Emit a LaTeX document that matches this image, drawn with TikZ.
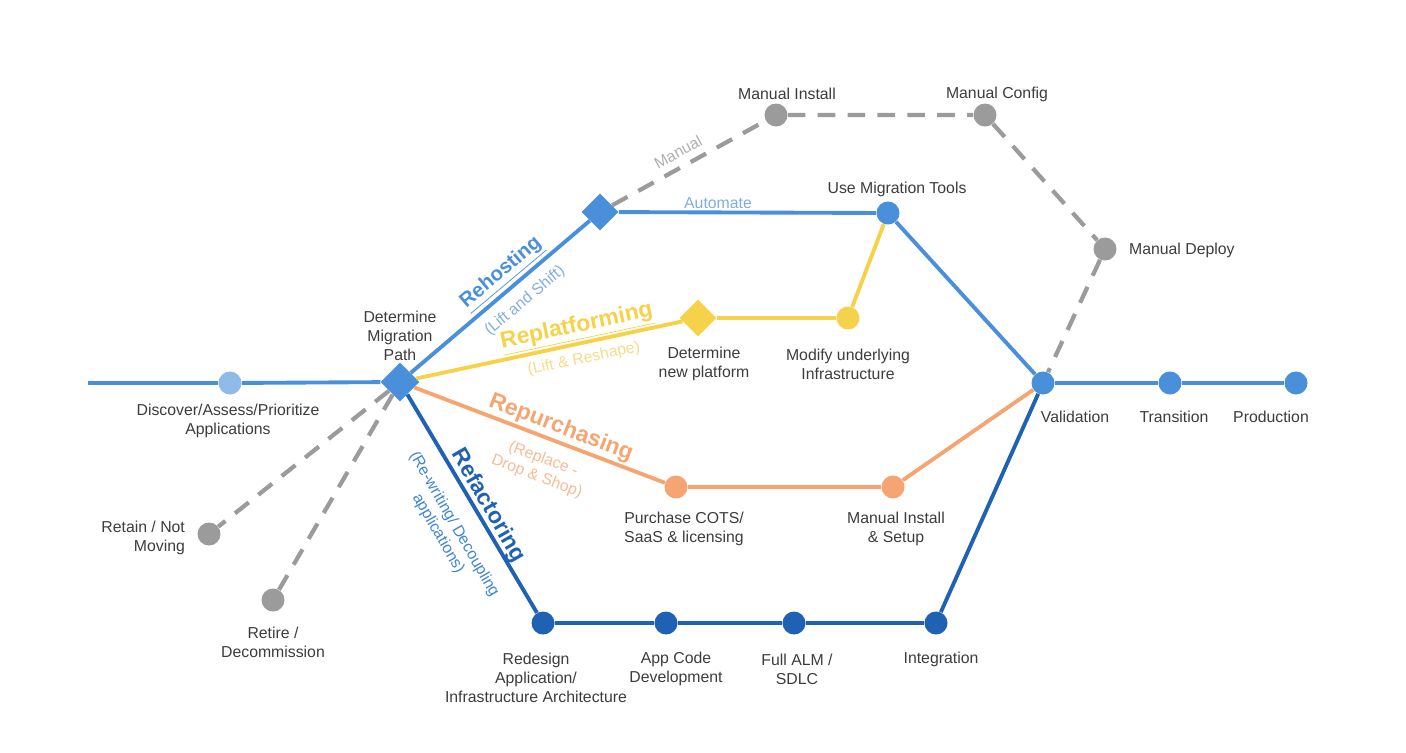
\documentclass[tikz,border=0pt]{standalone}
\usepackage{fontspec}
\setmainfont{Liberation Sans}
\usetikzlibrary{shapes.geometric}

\definecolor{hostblue}{HTML}{4A8FD9}
\definecolor{discblue}{HTML}{8FBBE9}
\definecolor{refblue}{HTML}{1F62B3}
\definecolor{platyellow}{HTML}{F6D24A}
\definecolor{buyorange}{HTML}{F5A572}
\definecolor{mangray}{HTML}{9B9B9B}
\definecolor{labelgray}{HTML}{3C3C3C}
\definecolor{hostnote}{HTML}{7FAEE3}
\definecolor{platnote}{HTML}{F6DC8A}
\definecolor{buynote}{HTML}{F6BC98}
\definecolor{refnote}{HTML}{3F84D4}

\tikzset{
  stopdot/.style={circle, fill=#1, minimum size=0.46cm, inner sep=0pt},
  forkbox/.style={diamond, fill=#1, minimum size=0.74cm, inner sep=0pt},
  stoplabel/.style={text=labelgray, font=\fontsize{9}{11}\selectfont, align=center, inner sep=1pt},
  trackline/.style={line width=2.2pt, draw=#1},
  manualline/.style={line width=2.4pt, draw=mangray, dash pattern=on 10pt off 7pt},
  trackname/.style={font=\fontsize{13}{15}\selectfont\bfseries, text=#1, inner sep=0pt},
  tracknote/.style={font=\fontsize{9}{10.5}\selectfont, text=#1, align=center, inner sep=0pt},
}

\begin{document}
\begin{tikzpicture}[x=0.02cm, y=-0.02cm]
  \useasboundingbox (0,0) rectangle (1406,752);

  % Main line
  \coordinate (entry) at (88,383);
  \node[stopdot=discblue] (discover) at (230,383) {};
  \node[forkbox=hostblue, minimum size=0.78cm] (path) at (400,382) {};
  \node[stopdot=hostblue] (valid) at (1043,383) {};
  \node[stopdot=hostblue] (trans) at (1170,383) {};
  \node[stopdot=hostblue] (prod) at (1296,383) {};

  % Rehosting stops
  \node[forkbox=hostblue] (rehost) at (600,212) {};
  \node[stopdot=hostblue] (tools) at (888,213) {};
  \node[stopdot=mangray] (install) at (776,115) {};
  \node[stopdot=mangray] (config) at (985,115) {};
  \node[stopdot=mangray] (deploy) at (1105,249) {};

  % Replatforming stops
  \node[forkbox=platyellow] (platform) at (698,318) {};
  \node[stopdot=platyellow] (modify) at (848,318) {};

  % Repurchasing stops
  \node[stopdot=buyorange] (purchase) at (676,487) {};
  \node[stopdot=buyorange] (setup) at (893,487) {};

  % Refactoring stops
  \node[stopdot=refblue] (redesign) at (543,623) {};
  \node[stopdot=refblue] (code) at (666,623) {};
  \node[stopdot=refblue] (alm) at (794,623) {};
  \node[stopdot=refblue] (integ) at (936,623) {};

  % Retain and retire
  \node[stopdot=mangray] (retain) at (209,534) {};
  \node[stopdot=mangray] (retire) at (273,600) {};

  % Tracks
  \draw[trackline=hostblue] (entry) -- (discover) -- (path);
  \draw[trackline=hostblue] (path) -- (rehost) -- (tools) -- (valid);
  \draw[trackline=hostblue] (valid) -- (trans) -- (prod);
  \draw[trackline=platyellow] (path) -- (platform) -- (modify) -- (tools);
  \draw[trackline=buyorange] (path) -- (purchase) -- (setup) -- (valid);
  \draw[trackline=refblue] (path) -- (redesign) -- (code) -- (alm) -- (integ) -- (valid);
  \draw[manualline] (rehost) -- (install) -- (config) -- (deploy) -- (valid);
  \draw[manualline] (path) -- (retain);
  \draw[manualline] (path) -- (retire);

  % Stop labels
  \node[stoplabel] (discoverlbl) at (228,421) {Discover/Assess/Prioritize\\Applications};
  \node[stoplabel] (pathlbl) at (400,336) {Determine\\Migration\\Path};
  \node[stoplabel] (installlbl) at (787,94) {Manual Install};
  \node[stoplabel] (configlbl) at (997,94) {Manual Config};
  \node[stoplabel] (toolslbl) at (897,189) {Use Migration Tools};
  \node[stoplabel, anchor=west] (deploylbl) at (1127,250) {Manual Deploy};
  \node[stoplabel] (platformlbl) at (704,364) {Determine\\new platform};
  \node[stoplabel] (modifylbl) at (848,364) {Modify underlying\\Infrastructure};
  \node[stoplabel] (purchaselbl) at (684,529) {Purchase COTS/\\SaaS \& licensing};
  \node[stoplabel] (setuplbl) at (896,529) {Manual Install\\\& Setup};
  \node[stoplabel] (redesignlbl) at (536,678) {Redesign\\Application/\\Infrastructure Architecture};
  \node[stoplabel] (codelbl) at (676,669) {App Code\\Development};
  \node[stoplabel] (almlbl) at (797,669) {Full ALM /\\SDLC};
  \node[stoplabel] (integlbl) at (941,659) {Integration};
  \node[stoplabel] (validlbl) at (1075,417) {Validation};
  \node[stoplabel] (translbl) at (1174,417) {Transition};
  \node[stoplabel] (prodlbl) at (1271,417) {Production};
  \node[stoplabel, align=right, anchor=east] (retainlbl) at (187,538) {Retain / Not\\Moving};
  \node[stoplabel] (retirelbl) at (273,642) {Retire /\\Decommission};

  % Track names
  \node[trackname=hostblue, font=\fontsize{11.5}{13}\selectfont\bfseries, rotate=40] (hostname) at (502,274) {\underline{Rehosting}};
  \node[tracknote=hostnote, rotate=40] (hostsub) at (525,301) {(Lift and Shift)};
  \node[tracknote=hostnote] (autolbl) at (718,203) {Automate};
  \node[tracknote=mangray!80, rotate=29] (manuallbl) at (678,152) {Manual};
  \node[trackname=platyellow, rotate=12] (platname) at (577,328) {\underline{Replatforming}};
  \node[tracknote=platnote, rotate=12] (platsub) at (584,359) {(Lift \& Reshape)};
  \node[trackname=buyorange, rotate=-21] (buyname) at (561,428) {Repurchasing};
  \node[tracknote=buynote, rotate=-21] (buysub) at (540,468) {(Replace -\\Drop \& Shop)};
  \node[trackname=refblue, rotate=-60] (refname) at (488,506) {Refactoring};
  \node[tracknote=refnote, rotate=-60] (refsub) at (446,529) {(Re-writing/ Decoupling\\applications)};
\end{tikzpicture}
\end{document}
